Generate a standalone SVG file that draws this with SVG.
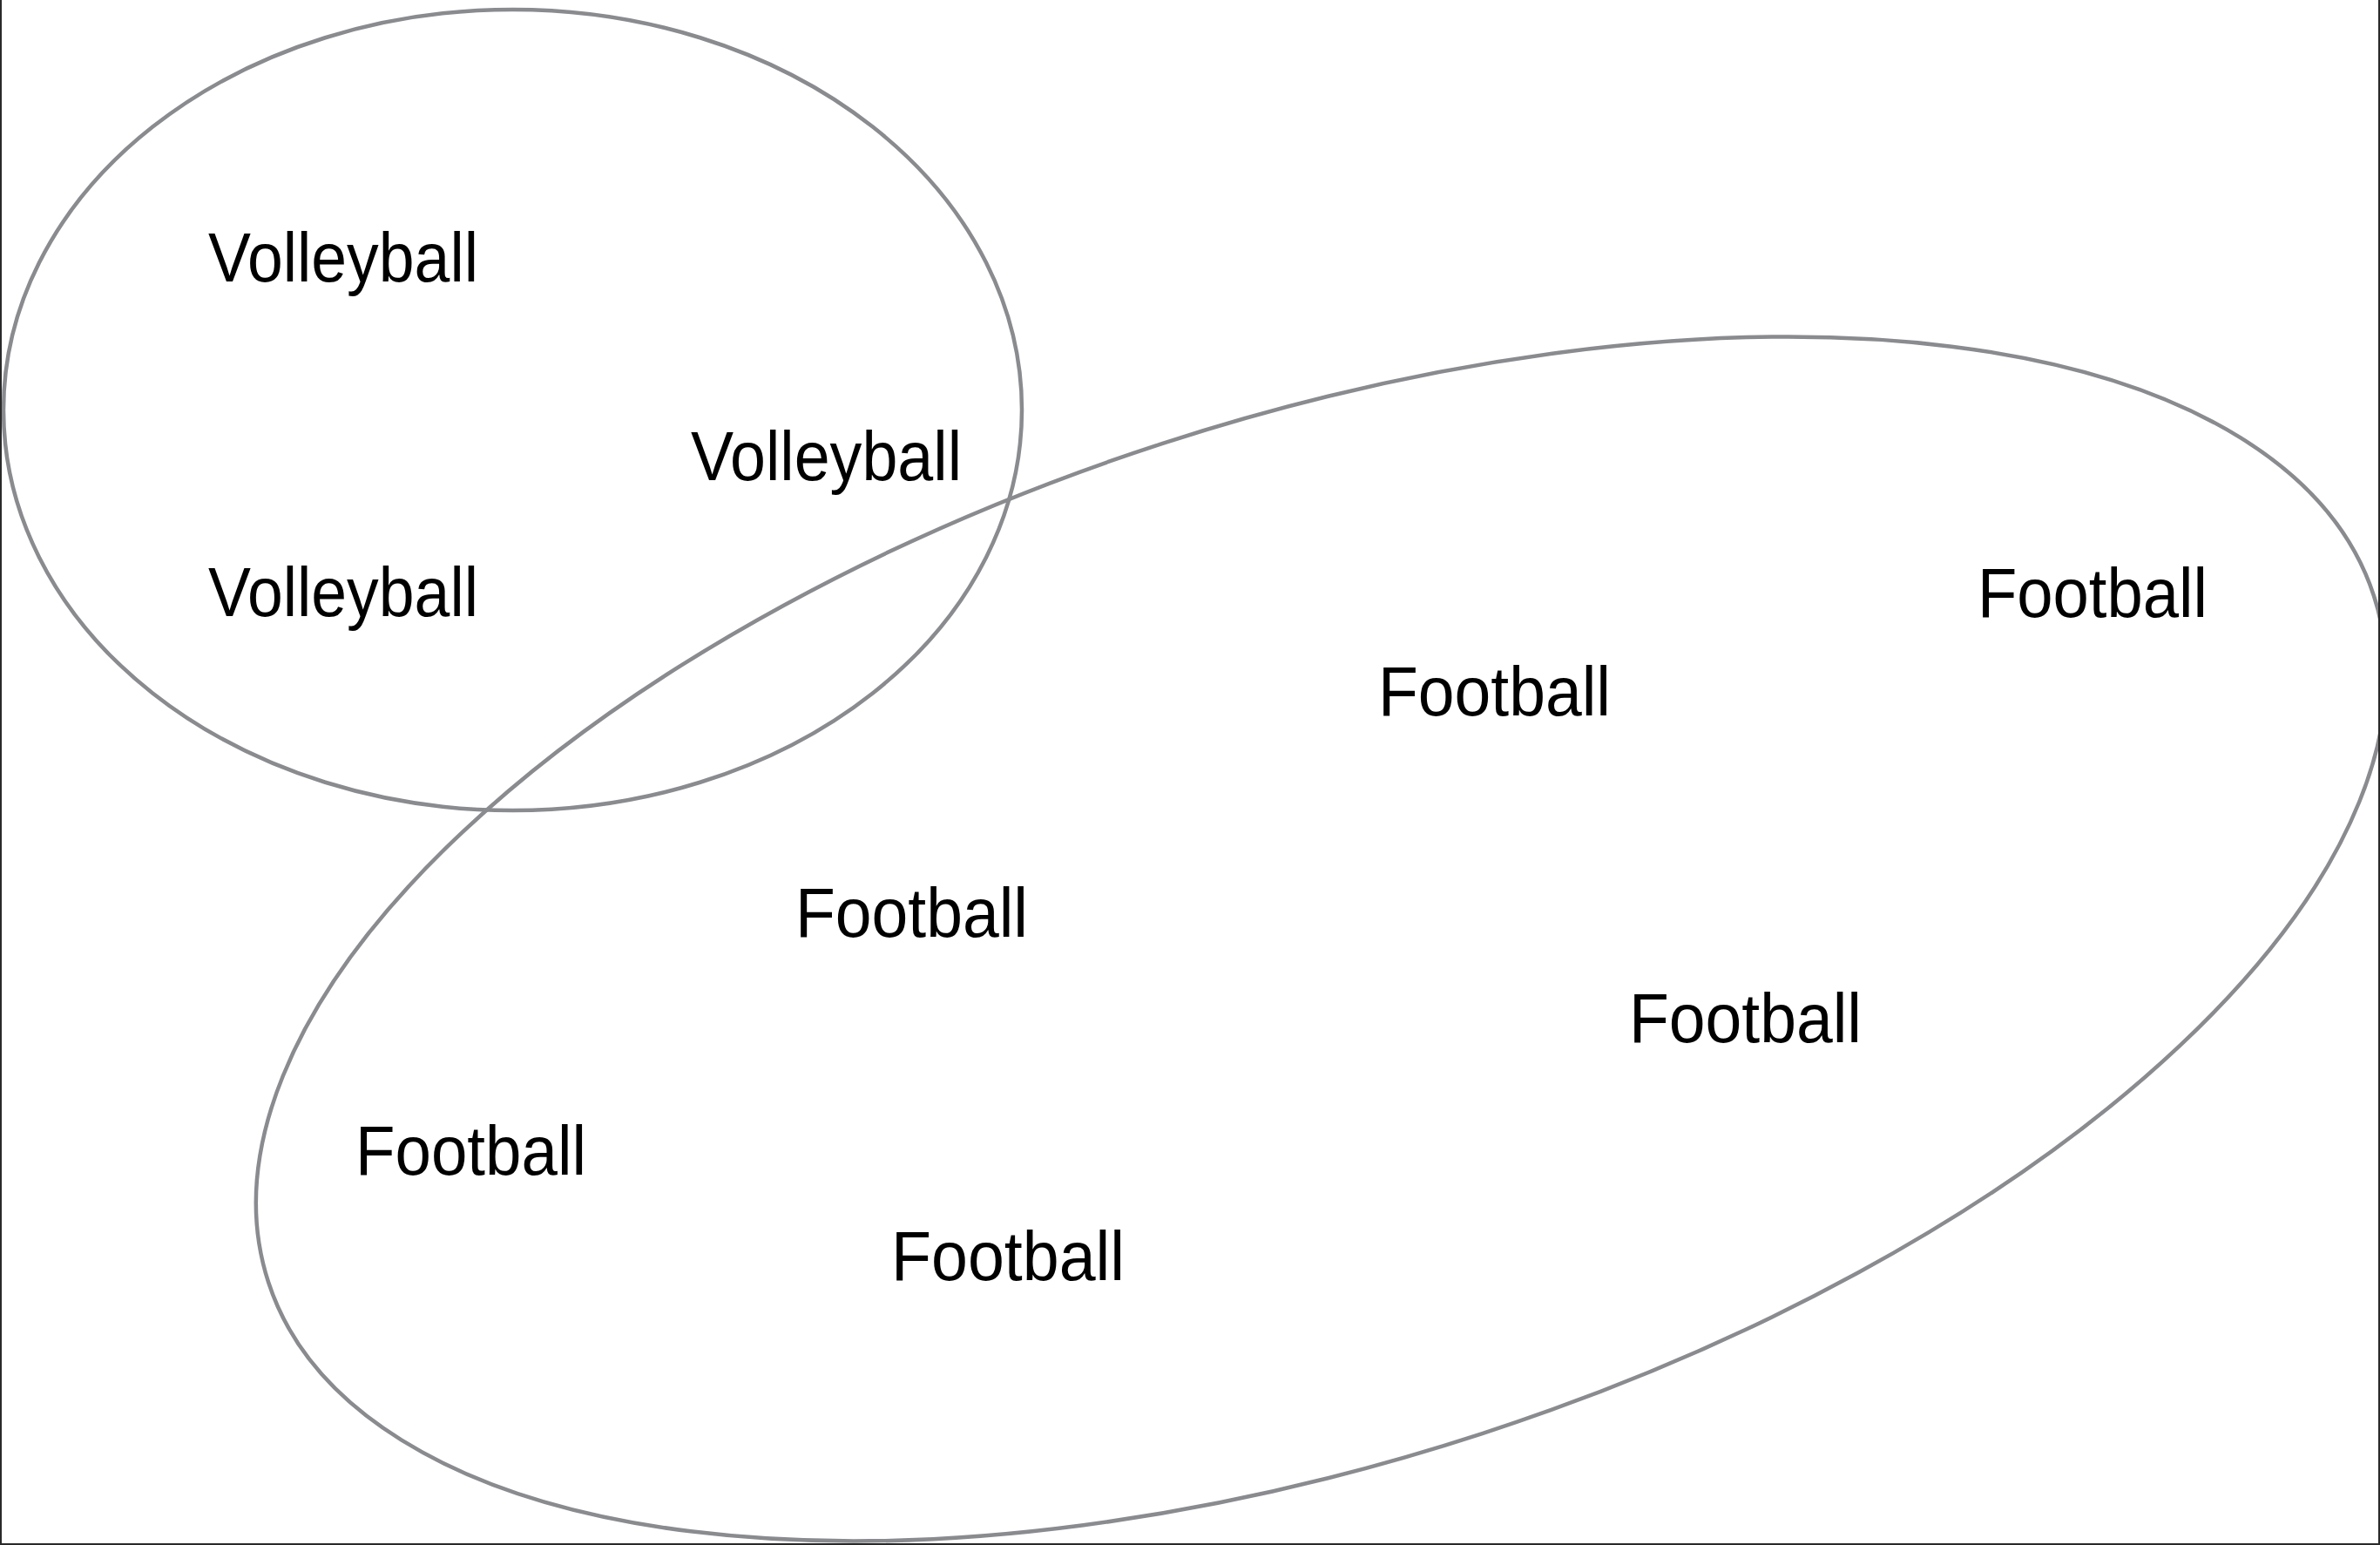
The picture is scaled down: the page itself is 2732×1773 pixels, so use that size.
<svg xmlns="http://www.w3.org/2000/svg" width="2732" height="1773" viewBox="0 0 2732 1773">
  <style>
    .set { fill: none; stroke: #8a8b8f; stroke-width: 4.5; }
    .lbl { font-family: "Liberation Sans", Arial, sans-serif; font-size: 80px; fill: #000; }
    .frame { stroke: #2a2a2a; stroke-width: 2; fill: none; }
  </style>
  <defs>
    <clipPath id="page"><rect x="0" y="0" width="2731" height="1772"/></clipPath>
  </defs>
  <rect width="2732" height="1773" fill="#ffffff"/>

  <g clip-path="url(#page)">
    <g id="volleyball-set">
      <ellipse class="set" cx="588.5" cy="470.5" rx="584.5" ry="459.5"/>
    </g>
    <g id="football-set">
      <ellipse class="set" cx="1516.5" cy="1077.5" rx="1271" ry="597" transform="rotate(-18.05 1516.5 1077.5)"/>
    </g>
  </g>
  <path class="frame" d="M1 0 V1772 H2731 V0"/>

  <g id="volleyball-1"><text class="lbl" x="239" y="323" textLength="310" lengthAdjust="spacingAndGlyphs">Volleyball</text></g>
  <g id="volleyball-2"><text class="lbl" x="793" y="551" textLength="311" lengthAdjust="spacingAndGlyphs">Volleyball</text></g>
  <g id="volleyball-3"><text class="lbl" x="239" y="707" textLength="310" lengthAdjust="spacingAndGlyphs">Volleyball</text></g>

  <g id="football-1"><text class="lbl" x="2270" y="708" textLength="264" lengthAdjust="spacingAndGlyphs">Football</text></g>
  <g id="football-2"><text class="lbl" x="1582" y="821" textLength="267" lengthAdjust="spacingAndGlyphs">Football</text></g>
  <g id="football-3"><text class="lbl" x="913" y="1075" textLength="267" lengthAdjust="spacingAndGlyphs">Football</text></g>
  <g id="football-4"><text class="lbl" x="1870" y="1196" textLength="267" lengthAdjust="spacingAndGlyphs">Football</text></g>
  <g id="football-5"><text class="lbl" x="408" y="1348" textLength="265" lengthAdjust="spacingAndGlyphs">Football</text></g>
  <g id="football-6"><text class="lbl" x="1023" y="1469" textLength="268" lengthAdjust="spacingAndGlyphs">Football</text></g>
</svg>
